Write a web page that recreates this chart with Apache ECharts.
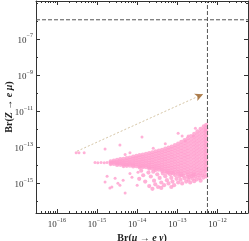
<!DOCTYPE html>
<html><head><meta charset="utf-8">
<script src="https://cdn.jsdelivr.net/npm/echarts@6/dist/echarts.min.js"></script>
<style>html,body{margin:0;padding:0;background:#fff}#c{width:249px;height:241px}</style>
</head><body><div id="c"></div>
<script>
// ---- data (log10 units) ----
const xMin = -16.52, xMax = -11.24;
const yMin = -16.64, yMax = -4.9;
const xTickValues = [-16, -15, -14, -13, -12];
const xTickLabels = ['\u221216', '\u221215', '\u221214', '\u221213', '\u221212'];
const yTickValues = [-15, -13, -11, -9, -7];
const yTickLabels = ['\u221215', '\u221213', '\u221211', '\u22129', '\u22127'];
const yMinorTicks = [-16, -14, -12, -10, -8, -6, -5];
const limitZ = -5.94;      // Br(Z -> e mu) bound
const limitMu = -12.25;    // Br(mu -> e gamma) bound
const arrowStart = [-15.5, -13.22];
const arrowEnd = [-12.36, -10.06];
const arrowHead = [-12.36, -10.06];

// dense band: columns [log x, [log y ...]]
const bandColumns = [
  [-14.66, [-13.78, -13.86, -13.93]],
  [-14.58, [-13.74, -13.84, -13.92]],
  [-14.50, [-13.70, -13.82, -13.90, -13.98]],
  [-14.42, [-13.66, -13.78, -13.88, -13.97]],
  [-14.34, [-13.64, -13.76, -13.86, -13.96, -14.04]],
  [-14.26, [-13.60, -13.72, -13.84, -13.95, -14.03]],
  [-14.18, [-13.57, -13.70, -13.82, -13.92, -14.02]],
  [-14.10, [-13.52, -13.64, -13.76, -13.88, -13.98, -14.06]],
  [-14.02, [-13.48, -13.60, -13.72, -13.84, -13.95, -14.05]],
  [-13.94, [-13.44, -13.56, -13.70, -13.82, -13.93, -14.04, -14.12]],
  [-13.86, [-13.40, -13.53, -13.66, -13.78, -13.90, -14.02, -14.10]],
  [-13.78, [-13.36, -13.50, -13.63, -13.76, -13.88, -14.00, -14.10]],
  [-13.70, [-13.32, -13.46, -13.60, -13.73, -13.86, -13.98, -14.10, -14.18]],
  [-13.62, [-13.28, -13.42, -13.56, -13.70, -13.83, -13.96, -14.08, -14.18]],
  [-13.54, [-13.22, -13.36, -13.50, -13.64, -13.78, -13.92, -14.04, -14.15, -14.26]],
  [-13.46, [-13.18, -13.32, -13.46, -13.60, -13.74, -13.88, -14.01, -14.13, -14.24]],
  [-13.38, [-13.14, -13.28, -13.42, -13.56, -13.70, -13.84, -13.98, -14.10, -14.22, -14.32]],
  [-13.30, [-13.08, -13.22, -13.37, -13.52, -13.66, -13.80, -13.94, -14.07, -14.20, -14.32]],
  [-13.22, [-13.02, -13.16, -13.31, -13.46, -13.61, -13.76, -13.90, -14.04, -14.17, -14.30, -14.40]],
  [-13.14, [-12.96, -13.10, -13.25, -13.40, -13.55, -13.70, -13.85, -14.00, -14.14, -14.28, -14.40]],
  [-13.06, [-12.88, -13.03, -13.18, -13.34, -13.50, -13.65, -13.80, -13.95, -14.10, -14.24, -14.38]],
  [-12.98, [-12.80, -12.96, -13.12, -13.28, -13.44, -13.60, -13.76, -13.92, -14.07, -14.22, -14.36, -14.46]],
  [-12.90, [-12.70, -12.86, -13.03, -13.20, -13.37, -13.54, -13.70, -13.86, -14.02, -14.18, -14.33, -14.46]],
  [-12.82, [-12.60, -12.77, -12.94, -13.11, -13.28, -13.45, -13.62, -13.79, -13.96, -14.12, -14.28, -14.43]],
  [-12.74, [-12.50, -12.67, -12.85, -13.03, -13.20, -13.38, -13.55, -13.72, -13.89, -14.06, -14.22, -14.38, -14.50]],
  [-12.66, [-12.38, -12.56, -12.74, -12.92, -13.10, -13.28, -13.46, -13.64, -13.82, -14.00, -14.17, -14.33, -14.48]],
  [-12.58, [-12.26, -12.44, -12.62, -12.80, -12.98, -13.16, -13.34, -13.52, -13.70, -13.88, -14.05, -14.22, -14.38, -14.50]],
  [-12.50, [-12.12, -12.30, -12.48, -12.66, -12.84, -13.02, -13.20, -13.38, -13.56, -13.74, -13.92, -14.10, -14.26, -14.42]],
  [-12.42, [-11.98, -12.16, -12.34, -12.52, -12.70, -12.88, -13.06, -13.24, -13.42, -13.60, -13.78, -13.96, -14.14, -14.30, -14.45]],
  [-12.34, [-11.84, -12.02, -12.20, -12.38, -12.56, -12.74, -12.92, -13.10, -13.28, -13.46, -13.64, -13.82, -14.00, -14.18, -14.34]],
  [-12.28, [-11.76, -11.94, -12.12, -12.30, -12.48, -12.66, -12.84, -13.02, -13.20, -13.38, -13.56, -13.74, -13.92, -14.10, -14.28]]
];

// lower wedge and scattered points [log x, log y]
const lowerPoints = [
  [-13.90, -14.30], [-13.85, -14.55], [-13.95, -14.75], [-13.80, -14.90], [-13.72, -14.40],
  [-13.66, -14.62], [-13.60, -14.35], [-13.58, -14.85], [-13.55, -15.05], [-13.50, -14.50],
  [-13.48, -15.20], [-13.44, -14.70], [-13.40, -14.95], [-13.36, -14.45], [-13.33, -15.10],
  [-13.30, -14.60], [-13.26, -14.82], [-13.22, -15.00], [-13.18, -14.50], [-13.15, -14.70],
  [-13.12, -14.90], [-13.08, -15.10], [-13.05, -14.55], [-13.02, -14.75], [-12.98, -14.95],
  [-12.95, -14.60], [-12.92, -14.80], [-12.88, -15.00], [-12.85, -14.58], [-12.82, -14.72],
  [-12.78, -14.90], [-12.75, -14.62], [-12.72, -14.80], [-12.68, -14.95], [-12.65, -14.60],
  [-12.62, -14.75], [-12.58, -14.88], [-12.55, -14.62], [-12.52, -14.78], [-12.48, -14.55],
  [-12.45, -14.70], [-12.42, -14.85], [-12.38, -14.55], [-12.35, -14.68], [-12.31, -14.50],
  [-12.28, -14.62], [-13.26, -14.40], [-13.10, -14.45], [-12.90, -14.55], [-12.70, -14.65],
  [-12.60, -14.55], [-13.70, -15.15], [-13.62, -15.30], [-13.40, -15.25], [-13.15, -15.20]
];
const sparsePoints = [
  [-15.52, -13.30], [-15.45, -13.31], [-15.32, -13.30],
  [-15.05, -13.85], [-14.98, -13.86], [-14.90, -13.85], [-14.82, -13.86], [-14.75, -13.84],
  [-14.80, -13.09], [-14.43, -12.87], [-13.88, -12.43], [-12.55, -11.95], [-12.98, -12.22],
  [-12.73, -12.38], [-12.88, -12.38], [-12.60, -12.38], [-12.30, -12.05], [-12.80, -12.65],
  [-13.30, -12.80], [-13.60, -13.05], [-14.30, -13.40], [-14.18, -13.30],
  [-14.75, -14.61], [-14.80, -14.93], [-14.63, -15.20], [-14.55, -14.72], [-14.35, -14.83],
  [-14.43, -15.10], [-14.30, -15.53], [-14.18, -14.45], [-14.13, -14.66], [-13.98, -14.39],
  [-14.00, -15.10], [-14.48, -14.99], [-14.68, -15.26]
];

// ---- build ----
const denseData = [];
bandColumns.forEach(c => c[1].forEach(y => denseData.push([c[0], y])));
lowerPoints.forEach(p => denseData.push(p));

const minorX = [];
for (let d = -17; d <= -11; d++) for (let k = 2; k <= 9; k++) {
  const v = d + Math.log10(k);
  if (v > xMin && v < xMax) minorX.push(v);
}

const serif = '"Liberation Serif","DejaVu Serif",serif';
const frame = '#333';
const rich = {
  b: { fontFamily: serif, fontSize: 9, color: '#333', verticalAlign: 'bottom', lineHeight: 12 },
  s: { fontFamily: serif, fontSize: 6, color: '#333', verticalAlign: 'top', lineHeight: 12, padding: [0, 0, 4, 0] }
};
function fmt(vals, labs) {
  return v => {
    const i = vals.findIndex(t => Math.abs(t - v) < 1e-6);
    return i < 0 ? '' : '{b|10}{s|' + labs[i] + '}';
  };
}
function baseAxis(min, max, pos) {
  return {
    type: 'value', min, max, position: pos, scale: true,
    axisLine: { show: true, onZero: false, lineStyle: { color: frame, width: 1 } },
    splitLine: { show: false },
    axisLabel: { show: false },
    axisTick: { show: false }
  };
}
function majorAxis(min, max, pos, vals, labs, showLab, margin) {
  const a = baseAxis(min, max, pos);
  a.axisTick = { show: true, inside: true, length: 4, customValues: vals, lineStyle: { color: frame } };
  if (showLab) a.axisLabel = { show: true, customValues: vals, formatter: fmt(vals, labs), rich, margin };
  return a;
}
function minorAxis(min, max, pos, vals) {
  const a = baseAxis(min, max, pos);
  a.axisLine = { show: false, onZero: false };
  a.axisTick = { show: true, inside: true, length: 2, customValues: vals, lineStyle: { color: frame } };
  return a;
}

const nameRich = {
  br: { fontFamily: serif, fontSize: 10, fontWeight: 'bold', color: '#222' },
  n: { fontFamily: serif, fontSize: 10, fontWeight: 'bold', color: '#222' },
  it: { fontFamily: serif, fontSize: 10, fontWeight: 'bold', fontStyle: 'italic', color: '#222' }
};
const xA0 = majorAxis(xMin, xMax, 'bottom', xTickValues, xTickLabels, true, 4);
xA0.name = '{br|Br(}{it|\u03bc}{n| \u2192 }{it|e}{n| }{it|\u03b3}{br|)}';
xA0.nameLocation = 'middle';
xA0.nameGap = 20;
xA0.nameMoveOverlap = false;
xA0.nameTextStyle = { rich: nameRich };
const yA0 = majorAxis(yMin, yMax, 'left', yTickValues, yTickLabels, true, 3);
yA0.name = '{br|Br(}{it|Z}{n| \u2192 }{it|e}{n| }{it|\u03bc}{br|)}';
yA0.nameLocation = 'middle';
yA0.nameGap = 22;
yA0.nameMoveOverlap = false;
yA0.nameTextStyle = { rich: nameRich };

const option = {
  animation: false,
  backgroundColor: '#fff',
  grid: { left: 36, right: 1, top: 1, bottom: 28, containLabel: false, outerBoundsMode: 'none' },
  xAxis: [
    xA0,
    minorAxis(xMin, xMax, 'bottom', minorX),
    majorAxis(xMin, xMax, 'top', xTickValues, xTickLabels, false, 0),
    minorAxis(xMin, xMax, 'top', minorX)
  ],
  yAxis: [
    yA0,
    minorAxis(yMin, yMax, 'left', yMinorTicks),
    majorAxis(yMin, yMax, 'right', yTickValues, yTickLabels, false, 0),
    minorAxis(yMin, yMax, 'right', yMinorTicks)
  ],
  series: [
    { type: 'scatter', data: denseData, symbol: 'circle', symbolSize: 4.2,
      itemStyle: { color: '#ff9dcd' }, silent: true, z: 2 },
    { type: 'scatter', data: sparsePoints, symbol: 'circle', symbolSize: 3,
      itemStyle: { color: '#ff9dcd' }, silent: true, z: 2 },
    { type: 'line', data: [[xMin, limitZ], [xMax, limitZ]], symbol: 'none',
      lineStyle: { color: '#555', width: 1, type: [4, 2] }, z: 3 },
    { type: 'line', data: [[limitMu, yMin], [limitMu, yMax]], symbol: 'none',
      lineStyle: { color: '#555', width: 1, type: [4, 2] }, z: 3 },
    { type: 'line', data: [arrowStart, arrowEnd], symbol: 'none',
      lineStyle: { color: '#d6c6a6', width: 1, type: [2, 2] }, z: 3 },
    { type: 'scatter', data: [arrowHead], symbol: 'arrow', symbolSize: [6, 8], symbolRotate: -66,
      itemStyle: { color: '#9a5e22' }, z: 4 }
  ]
};
echarts.init(document.getElementById('c')).setOption(option);
</script></body></html>
